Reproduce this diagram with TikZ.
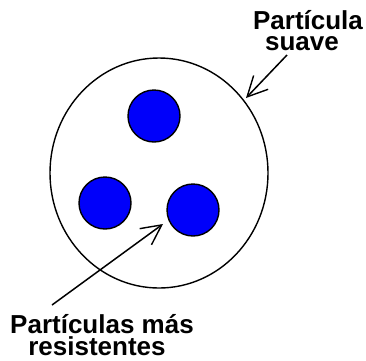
\documentclass[tikz,border=0pt]{standalone}
\usepackage{fontspec}
\setmainfont{Liberation Sans}
\usetikzlibrary{shapes.geometric,arrows.meta}
\definecolor{pblue}{RGB}{0,0,250}
\tikzset{
  grain/.style={circle,draw=black,line width=1.4pt,fill=pblue,minimum size=52pt,inner sep=0pt},
  lbl/.style={anchor=base,font=\fontsize{26}{21}\selectfont\bfseries,inner sep=0pt},
  pointer/.style={line width=1.5pt,-{Straight Barb[length=20pt,width=20pt,line width=1.4pt]}}
}
\begin{document}
\begin{tikzpicture}[x=1pt,y=-1pt]
\useasboundingbox (0,0) rectangle (366,360);
\node[ellipse,draw=black,line width=1.4pt,minimum width=218pt,minimum height=230pt,inner sep=0pt] (soft) at (159,173) {};
\node[grain] (g1) at (154,116) {};
\node[grain] (g2) at (105,203) {};
\node[grain] (g3) at (193,210) {};
\node[lbl] (top1) at (308,29) {Partícula};
\node[lbl] (top2) at (302,50) {suave};
\node[lbl] (bot1) at (102,333) {Partículas más};
\node[lbl] (bot2) at (97,355) {resistentes};
\coordinate (t1) at (287,55);
\coordinate (t2) at (246,98);
\coordinate (b1) at (52,305);
\coordinate (b2) at (163,224);
\draw[pointer] (t1) -- (t2);
\draw[pointer] (b1) -- (b2);
\end{tikzpicture}
\end{document}
